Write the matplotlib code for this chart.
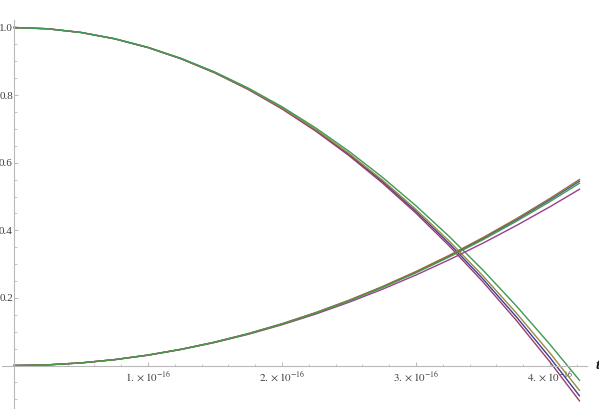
import matplotlib
matplotlib.use("Agg")
import matplotlib.pyplot as plt
from matplotlib.ticker import FixedLocator

plt.rcParams['mathtext.fontset'] = 'stix'

# time samples (units of 1e-16)
t_units = [0, 0.25, 0.5, 0.75, 1.0, 1.25, 1.5, 1.75, 2.0, 2.25, 2.5, 2.75,
           3.0, 3.25, 3.5, 3.75, 4.0, 4.22]

# decaying curves
fall_blue = [1.000, 0.9963, 0.9853, 0.9667, 0.9408, 0.9072, 0.8661, 0.8172, 0.7607,
             0.6963, 0.6242, 0.5441, 0.4561, 0.3600, 0.2560, 0.1436, 0.0232, -0.0896]
fall_red = [1.000, 0.9963, 0.9853, 0.9667, 0.9406, 0.9068, 0.8655, 0.8162, 0.7591,
            0.6941, 0.6211, 0.5399, 0.4507, 0.3531, 0.2474, 0.1331, 0.0105, -0.1046]
fall_gold = [1.000, 0.9963, 0.9853, 0.9668, 0.9410, 0.9076, 0.8668, 0.8184, 0.7624,
             0.6988, 0.6276, 0.5485, 0.4618, 0.3673, 0.2651, 0.1549, 0.0369, -0.0736]
fall_green = [1.000, 0.9963, 0.9854, 0.9670, 0.9414, 0.9084, 0.8682, 0.8205, 0.7656,
              0.7033, 0.6338, 0.5568, 0.4726, 0.3810, 0.2822, 0.1759, 0.0624, -0.0436]

# rising curves
rise_blue = [0.0, 0.0019, 0.0077, 0.0174, 0.0308, 0.0482, 0.0693, 0.0942, 0.1231,
             0.1556, 0.1921, 0.2323, 0.2763, 0.3241, 0.3756, 0.4310, 0.4901, 0.5453]
rise_purple = [0.0, 0.0019, 0.0077, 0.0172, 0.0305, 0.0475, 0.0682, 0.0925, 0.1205,
               0.1520, 0.1871, 0.2257, 0.2677, 0.3132, 0.3620, 0.4142, 0.4697, 0.5213]
rise_orange = [0.0, 0.0019, 0.0077, 0.0174, 0.0309, 0.0483, 0.0695, 0.0946, 0.1236,
               0.1564, 0.1931, 0.2337, 0.2781, 0.3264, 0.3785, 0.4345, 0.4944, 0.5503]
rise_green = [0.0, 0.0019, 0.0077, 0.0173, 0.0308, 0.0480, 0.0690, 0.0938, 0.1224,
              0.1547, 0.1908, 0.2307, 0.2741, 0.3214, 0.3722, 0.4268, 0.4850, 0.5393]

x_major = [1, 2, 3, 4]
x_labels = [r'$1.\times10^{-16}$', r'$2.\times10^{-16}$', r'$3.\times10^{-16}$', r'$4.\times10^{-16}$']
y_major = [0.2, 0.4, 0.6, 0.8, 1.0]
y_labels = ['0.2', '0.4', '0.6', '0.8', '1.0']

t = [v * 1e-16 for v in t_units]

series = [
    (fall_blue, (0.2472, 0.24, 0.6)),
    (fall_red, (0.6, 0.24, 0.442893)),
    (fall_gold, (0.6, 0.547014, 0.24)),
    (fall_green, (0.24, 0.6, 0.33692)),
    (rise_blue, (0.24, 0.353173, 0.6)),
    (rise_purple, (0.6, 0.24, 0.563266)),
    (rise_orange, (0.6, 0.426641, 0.24)),
    (rise_green, (0.28, 0.6, 0.28)),
]

fig = plt.figure(figsize=(5.99, 4.09), dpi=100)
ax = fig.add_axes([0, 0, 1, 1])
ax.patch.set_alpha(0)

for ys, c in series:
    ax.plot(t, ys, color=c, lw=1.0, solid_joinstyle='round')

ax.set_xlim(-0.1045e-16, 4.366e-16)
ax.set_ylim(-0.1287, 1.0814)

axis_color = (0.72, 0.72, 0.72)
for s in ['top', 'right']:
    ax.spines[s].set_visible(False)
ax.spines['left'].set_position(('data', 0))
ax.spines['bottom'].set_position(('data', 0))
ax.spines['left'].set_bounds(-0.1287, 1.022)
ax.spines['bottom'].set_bounds(-0.09e-16, 4.276e-16)
for s in ['left', 'bottom']:
    ax.spines[s].set_color(axis_color)
    ax.spines[s].set_linewidth(0.8)

ax.set_xticks([v * 1e-16 for v in x_major])
ax.set_xticklabels(x_labels)
ax.xaxis.set_minor_locator(FixedLocator([i * 0.2e-16 for i in range(1, 22) if i % 5 != 0]))
ax.set_yticks(y_major)
ax.set_yticklabels(y_labels)
ax.yaxis.set_minor_locator(FixedLocator([i * 0.05 for i in range(-2, 21) if i % 4 != 0]))

ax.tick_params(axis='both', which='major', direction='in', length=3.2, width=0.7,
               color=axis_color, labelsize=8, labelcolor=(0.25, 0.25, 0.25))
ax.tick_params(axis='both', which='minor', direction='in', length=1.8, width=0.6,
               color=axis_color)
ax.tick_params(axis='x', which='major', pad=3)
ax.tick_params(axis='y', which='major', pad=0.8)
for lab in ax.get_yticklabels():
    lab.set_family('Liberation Serif')

ax.text(4.37e-16, 0, 't', fontsize=11, fontweight='bold', fontstyle='italic',
        family='Liberation Serif', ha='right', va='center', color=(0.1, 0.1, 0.1))

fig.savefig('out.png', dpi=100)
